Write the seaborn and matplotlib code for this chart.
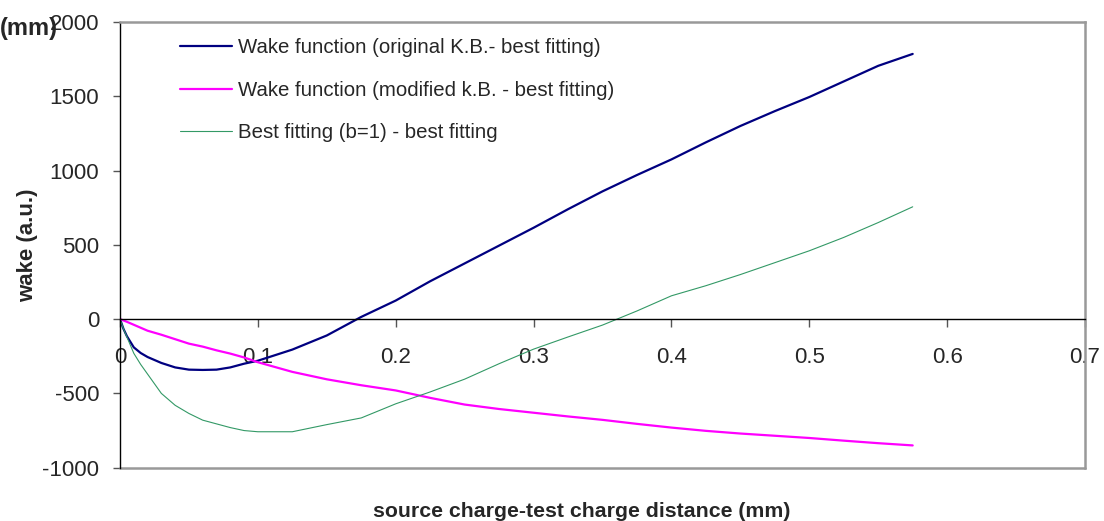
import matplotlib
matplotlib.use("Agg")
import matplotlib.pyplot as plt
import seaborn as sns

# distance (mm)
distance = [0, 0.0025, 0.005, 0.01, 0.015, 0.02, 0.03, 0.04, 0.05, 0.06, 0.07, 0.08, 0.09, 0.1,
            0.125, 0.15, 0.175, 0.2, 0.225, 0.25, 0.275, 0.3, 0.325, 0.35, 0.375,
            0.4, 0.425, 0.45, 0.475, 0.5, 0.525, 0.55, 0.575]

wake_original = [0, -65, -115, -190, -228, -255, -295, -325, -340, -342, -340, -325, -300, -280,
                 -205, -110, 15, 125, 255, 375, 495, 615, 740, 860, 970,
                 1075, 1190, 1300, 1400, 1495, 1600, 1705, 1785]

wake_modified = [0, -9, -18, -38, -58, -78, -105, -135, -165, -185, -210, -232, -258, -290,
                 -355, -405, -445, -480, -530, -575, -605, -630, -655, -678, -705,
                 -730, -752, -770, -785, -800, -818, -835, -850]

wake_b1 = [0, -65, -120, -230, -305, -370, -500, -580, -635, -680, -705, -730, -750, -758,
           -758, -710, -665, -570, -490, -404, -300, -202, -120, -40, 55,
           157, 225, 300, 380, 460, 550, 650, 756]

series_labels = ["Wake function (original K.B.- best fitting)",
                 "Wake function (modified k.B. - best fitting)",
                 "Best fitting (b=1) - best fitting"]
x_ticks = [0, 0.1, 0.2, 0.3, 0.4, 0.5, 0.6, 0.7]
y_ticks = [-1000, -500, 0, 500, 1000, 1500, 2000]

sns.set_style("white")
plt.rcParams["font.family"] = ["Liberation Sans", "DejaVu Sans"]

fig = plt.figure(figsize=(11.04, 5.21), dpi=100)
ax = fig.add_axes([0.1087, 0.1023, 0.8741, 0.8555])

sns.lineplot(x=distance, y=wake_original, color="#000080", lw=1.6, label=series_labels[0], ax=ax)
sns.lineplot(x=distance, y=wake_modified, color="#ff00ff", lw=1.6, label=series_labels[1], ax=ax)
sns.lineplot(x=distance, y=wake_b1, color="#339966", lw=0.8, label=series_labels[2], ax=ax)

ax.set_xlim(0, 0.7)
ax.set_ylim(-1000, 2000)
ax.set_xticks(x_ticks)
ax.set_xticklabels([f"{t:g}" for t in x_ticks])
ax.set_yticks(y_ticks)
ax.set_yticklabels([str(t) for t in y_ticks])

# Excel-like frame: grey plot-area border, black axes
ax.spines["bottom"].set_position(("data", 0))
ax.spines["bottom"].set_color("black")
ax.spines["bottom"].set_linewidth(1.0)
ax.spines["left"].set_color("black")
ax.spines["left"].set_linewidth(1.0)
for side in ["top", "right"]:
    ax.spines[side].set_color("#999999")
    ax.spines[side].set_linewidth(1.8)
ax.axhline(-1000, color="#999999", lw=1.8, clip_on=False)

ax.tick_params(axis="x", direction="out", length=6, width=1, color="#555555",
               pad=14, labelsize=16, bottom=True)
ax.tick_params(axis="y", direction="out", length=5, width=1, color="#555555",
               pad=10, labelsize=16, left=True)

ax.set_ylabel("wake (a.u.)", fontsize=16, fontweight="bold")
ax.yaxis.set_label_coords(-0.085, 0.5)
ax.set_xlabel("source charge-test charge distance (mm)", fontsize=15.3, fontweight="bold")
ax.xaxis.set_label_coords(0.478, -0.077)

fig.text(0.0, 1 - 28 / 521, "(mm)", fontsize=17, fontweight="bold", va="center", ha="left")

ax.legend(loc="upper left", bbox_to_anchor=(180 / 1104, 1 - 38.5 / 521),
          bbox_transform=fig.transFigure, frameon=False, fontsize=14.7,
          borderpad=0, borderaxespad=0, handlelength=2.55, handletextpad=0.29,
          labelspacing=1.15)

fig.savefig("out.png", dpi=100)
plt.close(fig)
